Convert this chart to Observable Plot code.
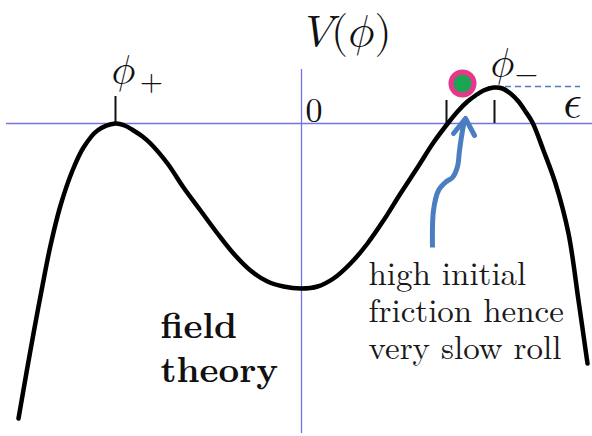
<!DOCTYPE html>
<html>
<head>
<meta charset="utf-8">
<script src="https://cdn.jsdelivr.net/npm/d3@7"></script>
<script src="https://cdn.jsdelivr.net/npm/@observablehq/plot@0.6"></script>
<style>
  html, body { margin: 0; padding: 0; background: #fff; }
  #chart svg { display: block; }
</style>
</head>
<body>
<div id="chart"></div>
<script>
// Potential curve V(phi)
const phi = [-2.83,-2.75,-2.68,-2.59,-2.51,-2.41,-2.29,-2.18,-2.04,-1.86,-1.77,-1.68,-1.59,-1.51,-1.34,-1.18,-1.01,-0.84,-0.68,-0.51,-0.34,-0.18,0,0.16,0.32,0.49,0.66,0.82,0.99,1.16,1.32,1.47,1.57,1.66,1.74,1.82,1.92,2.01,2.09,2.17,2.24,2.31,2.42,2.54,2.67,2.77,2.86];
const V   = [-2.95,-2.49,-2.10,-1.62,-1.22,-0.82,-0.47,-0.24,-0.07,0,-0.02,-0.07,-0.13,-0.20,-0.40,-0.64,-0.87,-1.10,-1.30,-1.47,-1.58,-1.63,-1.65,-1.63,-1.55,-1.40,-1.20,-0.97,-0.70,-0.44,-0.19,0.01,0.13,0.22,0.28,0.33,0.36,0.35,0.30,0.22,0.12,0.01,-0.27,-0.60,-1.10,-1.77,-2.40];

// axes extent
const axisPhi = [-2.95, 2.91];
const axisV = [-3.10, 0.54];

// tick marks: position and height
const tickPhi = [-1.86, 1.45, 1.93];
const tickTop = [0.27, 0.23, 0.23];

// false vacuum level (dashed) epsilon
const epsPhi = [1.94, 2.79];
const epsV = 0.37;

// ball position
const ballPhi = 1.61, ballV = 0.40;

// arrow path
const arrowPhi = [1.31,1.32,1.37,1.45,1.51,1.56,1.58,1.61,1.63];
const arrowV   = [-1.24,-0.87,-0.67,-0.58,-0.54,-0.43,-0.27,-0.07,0.03];
const headPhi = [1.52,1.64,1.73];
const headV   = [-0.10,0.05,-0.12];

// labels
const titleText = "𝑉(𝜙)";
const phiText = "𝜙";
const plusText = "+";
const minusText = "−";
const zeroText = "0";
const epsText = "𝜖";
const noteText = "high initial\nfriction hence\nvery slow roll";
const fieldText = "field\ntheory";

const curve = phi.map((p, i) => ({phi: p, V: V[i]}));
const arrow = arrowPhi.map((p, i) => ({phi: p, V: arrowV[i]}));
const head = headPhi.map((p, i) => ({phi: p, V: headV[i]}));
const ticks = tickPhi.map((p, i) => ({phi: p, top: tickTop[i]}));

const axisBlue = "#7373e4";
const arrowBlue = "#4a7ec0";
const textFont = "'Latin Modern Roman', 'Liberation Serif', serif";
const mathFont = "'Latin Modern Math', 'Latin Modern Roman', 'Liberation Serif', serif";

const plot = Plot.plot({
  width: 592,
  height: 436,
  margin: 0,
  style: {background: "#fff"},
  x: {domain: [-3.01, 2.91], axis: null},
  y: {domain: [-3.13, 1.23], axis: null},
  marks: [
    Plot.ruleY([0], {x1: axisPhi[0], x2: axisPhi[1], stroke: axisBlue, strokeWidth: 1.5}),
    Plot.ruleX([0], {y1: axisV[0], y2: axisV[1], stroke: axisBlue, strokeWidth: 1.3}),
    Plot.ruleX(ticks, {x: "phi", y1: 0, y2: "top", stroke: "#111", strokeWidth: 2}),
    Plot.ruleY([epsV], {x1: epsPhi[0], x2: epsPhi[1], stroke: arrowBlue, strokeWidth: 1.5, strokeDasharray: "6,4"}),
    Plot.line(curve, {x: "phi", y: "V", curve: "catmull-rom", stroke: "#000", strokeWidth: 4.5}),
    Plot.line(arrow, {x: "phi", y: "V", curve: "catmull-rom", stroke: arrowBlue, strokeWidth: 5, strokeLinecap: "butt"}),
    Plot.line(head, {x: "phi", y: "V", stroke: arrowBlue, strokeWidth: 5, strokeLinecap: "round", strokeLinejoin: "round"}),
    Plot.dot([{phi: ballPhi, V: ballV}], {x: "phi", y: "V", r: 14, fill: "#e8378b", stroke: "none"}),
    Plot.dot([{phi: ballPhi, V: ballV}], {x: "phi", y: "V", r: 9, fill: "#1aa454", stroke: "none"}),
    Plot.text([titleText], {x: 0.47, y: 0.78, text: d => d, fontSize: 44, fontFamily: mathFont, textAnchor: "middle", lineAnchor: "bottom", fill: "#111"}),
    Plot.text([phiText], {x: -1.78, y: 0.41, text: d => d, fontSize: 40, fontFamily: mathFont, textAnchor: "middle", lineAnchor: "bottom", fill: "#111"}),
    Plot.text([plusText], {x: -1.50, y: 0.33, text: d => d, fontSize: 30, fontFamily: textFont, textAnchor: "middle", lineAnchor: "bottom", fill: "#111"}),
    Plot.text([phiText], {x: 2.01, y: 0.48, text: d => d, fontSize: 40, fontFamily: mathFont, textAnchor: "middle", lineAnchor: "bottom", fill: "#111"}),
    Plot.text([minusText], {x: 2.25, y: 0.41, text: d => d, fontSize: 30, fontFamily: mathFont, textAnchor: "middle", lineAnchor: "bottom", fill: "#111"}),
    Plot.text([zeroText], {x: 0.04, y: 0.02, text: d => d, fontSize: 34, fontFamily: textFont, textAnchor: "start", lineAnchor: "bottom", fill: "#111"}),
    Plot.text([epsText], {x: 2.71, y: 0.07, text: d => d, fontSize: 46, fontFamily: mathFont, textAnchor: "middle", lineAnchor: "bottom", fill: "#111"}),
    Plot.text([noteText], {x: 0.67, y: -2.35, text: d => d, fontSize: 33, lineHeight: 1.12, fontFamily: textFont, textAnchor: "start", lineAnchor: "bottom", fill: "#1a1a1a"}),
    Plot.text([fieldText], {x: -1.41, y: -2.58, text: d => d, fontSize: 36, lineHeight: 1.22, fontFamily: textFont, fontWeight: "bold", textAnchor: "start", lineAnchor: "bottom", fill: "#111"})
  ]
});

// make sure the chosen faces win over any inherited font settings
plot.querySelectorAll("g[font-family]").forEach(g => {
  const fam = g.getAttribute("font-family");
  g.querySelectorAll("text").forEach(t => { t.style.fontFamily = fam; });
});

document.getElementById("chart").appendChild(plot);
</script>
</body>
</html>
